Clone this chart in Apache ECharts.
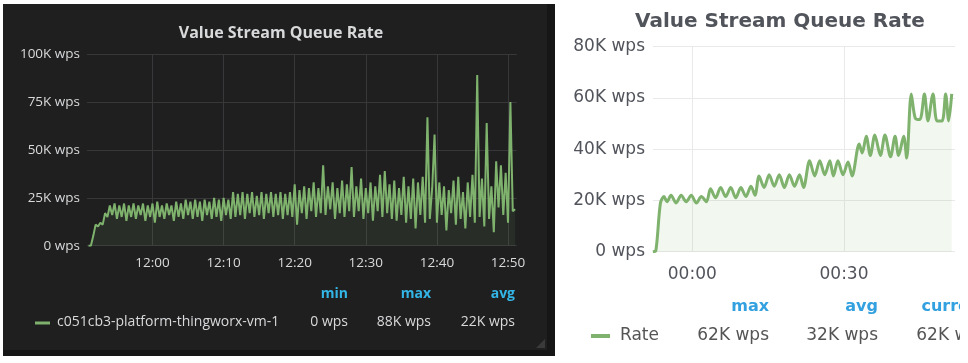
<!DOCTYPE html>
<html><head><meta charset="utf-8">
<script src="https://cdn.jsdelivr.net/npm/echarts@6/dist/echarts.min.js"></script>
<style>html,body{margin:0;padding:0;background:#fff;}#c{width:968px;height:363px;}</style>
</head><body><div id="c"></div>
<script>
// ---------- data ----------
const panelTitle = 'Value Stream Queue Rate';
const leftTickTimes = ['12:00','12:10','12:20','12:30','12:40','12:50'];
const rightTickTimes = ['00:00','00:30'];
const leftYMax = 100000, leftYStep = 25000;
const rightYMax = 80000, rightYStep = 20000;
// left series: one sample every 20 s from 11:51:00, in K wps
const leftValuesK = [
  0,0,5,  11,10,12,  11,17,15,  21,16,22,  14,21,15,  22,13,21,  15,22,14,  21,16,22,  13,21,15,
  22,12,23,  15,21,14,  22,16,21,  13,23,15,  22,14,24,  16,23,14,  24,15,23,  13,24,16,  23,14,25,  15,24,13,
  25,16,24,  14,28,15,  27,16,28,  14,27,17,  28,15,26,  16,28,14,  27,17,28,  15,27,16,  28,14,27,  16,28,15,
  32,11,29,  17,31,14,  30,18,33,  15,30,17,  42,16,31,  19,33,14,  30,17,34,  15,32,18,  41,15,31,  18,35,14,
  30,17,33,  13,31,18,  37,15,39,  17,32,14,  34,13,30,  16,36,12,  31,14,35,  9,33,16,  36,12,67,  14,30,58,
  12,33,16,  31,8,29,  17,34,11,  36,14,28,  9,33,15,  37,12,89,  15,35,10,  64,14,31,  7,44,20,  42,16,38,
  12,75,18,  19
];
// right series: minutes after 00:00, value in K wps
const rightMinutes = [
  -7.8,-7.2,-6.3,-5.6,-5.0,-4.2,-3.2,-2.2,-1.2,-0.2,0.8,1.8,2.8,
  3.6,4.6,5.6,6.6,7.6,8.6,9.6,10.6,11.6,12.4,
  13.2,14.2,15.2,16.2,17.2,18.2,19.2,20.2,21.2,22.0,
  23.2,24.2,25.2,26.2,27.2,27.9,28.8,29.8,30.8,31.6,
  33.0,33.6,34.4,35.2,36.1,37.2,38.1,39.2,40.1,40.8,41.8,42.4,
  43.3,44.1,45.0,45.9,46.6,47.6,48.4,49.4,50.1,50.7,51.3
];
const rightValuesK = [
  0,0.5,19,21.5,19.5,22,19,22,19.5,22,19,21.5,19.5,
  24.5,21,25,21.5,25,21,25,21.5,25.5,22,
  29.5,25,30,25.5,30,25,30,25.5,30,25,
  35.5,29.5,35.5,30,35.5,29.5,35.5,30,35,29.5,
  42,38.5,45,37.5,45.5,37.5,45.5,37,45,37.5,45,36.5,
  61.5,52,51.5,61.5,51,61.5,51,51,61.5,51,61.5
];
const leftLegendName = 'c051cb3-platform-thingworx-vm-1';
const leftLegendHeaders = ['min','max','avg'];
const leftLegendValues = ['0 wps','88K wps','22K wps'];
const rightLegendName = 'Rate';
const rightLegendHeaders = ['max','avg','current'];
const rightLegendValues = ['62K wps','32K wps','62K wps'];

// ---------- helpers ----------
const GREEN = '#7eb26d';
const leftRef = 12 * 60;   // 12:00
const rightRef = 0;        // 00:00
function toMin(str, ref) { const p = str.split(':'); let m = (+p[0]) * 60 + (+p[1]) - ref; if (m > 720) m -= 1440; return m; }
function pad(n) { return (n < 10 ? '0' : '') + n; }
function fmtMin(ref) {
  return function (v) { let t = Math.round(v + ref); t = ((t % 1440) + 1440) % 1440; return pad(Math.floor(t / 60)) + ':' + pad(t % 60); };
}
function fmtWps(v) { return v === 0 ? '0 wps' : (v / 1000) + 'K wps'; }

const leftStart = toMin('11:51', leftRef);
const leftData = leftValuesK.map((v, i) => [leftStart + i / 3, v * 1000]);
const rightData = rightMinutes.map((m, i) => [m, rightValuesK[i] * 1000]);
const leftTicks = leftTickTimes.map(s => toMin(s, leftRef));
const rightTicks = rightTickTimes.map(s => toMin(s, rightRef));

const LF = 'Open Sans', RF = 'DejaVu Sans';
const graphics = [
  { type: 'rect', z: -20, shape: { x: 3, y: 4, width: 552, height: 352 }, style: { fill: '#161617' } },
  { type: 'rect', z: -19, shape: { x: 3, y: 4, width: 544, height: 346 }, style: { fill: '#1f1f20' } },
  { type: 'polygon', z: -18, shape: { points: [[545, 339], [545, 348], [536, 348]] }, style: { fill: '#3a3a3b' } },
  { type: 'rect', shape: { x: 35, y: 321.5, width: 15, height: 3 }, style: { fill: GREEN } },
  { type: 'text', x: 57, y: 322.5, style: { text: leftLegendName, fill: '#d8d9da', font: '14px "' + LF + '"', align: 'left', verticalAlign: 'middle' } },
  { type: 'rect', shape: { x: 591, y: 334, width: 19, height: 4 }, style: { fill: GREEN } },
  { type: 'text', x: 620, y: 336, style: { text: rightLegendName, fill: '#555555', font: '17px "' + RF + '"', align: 'left', verticalAlign: 'middle' } }
];
const leftCols = [348, 431, 515];
leftLegendHeaders.forEach((h, i) => {
  graphics.push({ type: 'text', x: leftCols[i], y: 294, style: { text: h, fill: '#33b5e5', font: 'bold 14px "' + LF + '"', align: 'right', verticalAlign: 'middle' } });
  graphics.push({ type: 'text', x: leftCols[i], y: 322.5, style: { text: leftLegendValues[i], fill: '#d8d9da', font: '14px "' + LF + '"', align: 'right', verticalAlign: 'middle' } });
});
const rightCols = [769, 878, 988];
rightLegendHeaders.forEach((h, i) => {
  graphics.push({ type: 'text', x: rightCols[i], y: 306.5, style: { text: h, fill: '#33a1e0', font: 'bold 16px "' + RF + '"', align: 'right', verticalAlign: 'middle' } });
  graphics.push({ type: 'text', x: rightCols[i], y: 336, style: { text: rightLegendValues[i], fill: '#555555', font: '17px "' + RF + '"', align: 'right', verticalAlign: 'middle' } });
});
// panel edge clipping the legend's last column
graphics.push({ type: 'rect', z: 50, shape: { x: 960, y: 285, width: 8, height: 78 }, style: { fill: '#ffffff' } });

const chart = echarts.init(document.getElementById('c'), null, { renderer: 'canvas' });
chart.setOption({
  backgroundColor: '#ffffff',
  animation: false,
  title: [
    { text: panelTitle, left: 276, top: 20, textAlign: 'center',
      textStyle: { color: '#d8d9da', fontFamily: LF, fontWeight: 'bold', fontSize: 16 } },
    { text: panelTitle, left: 775, top: 7, textAlign: 'center',
      textStyle: { color: '#52545c', fontFamily: RF, fontWeight: 'bold', fontSize: 20 } }
  ],
  grid: [
    { left: 87, top: 54, width: 429.7, height: 191.7 },
    { left: 653, top: 46.5, width: 302, height: 205.2 }
  ],
  xAxis: [
    { type: 'value', gridIndex: 0, min: -9.21, max: 51.22,
      axisLine: { show: false }, axisTick: { show: false, customValues: leftTicks },
      splitLine: { show: true, lineStyle: { color: '#38383a', width: 1 } },
      axisLabel: { customValues: leftTicks, formatter: fmtMin(leftRef), color: '#d8d9da',
        fontFamily: LF, fontSize: 13.5, margin: 10 } },
    { type: 'value', gridIndex: 1, min: -7.77, max: 51.95,
      axisLine: { show: false }, axisTick: { show: false, customValues: rightTicks },
      splitLine: { show: true, lineStyle: { color: '#e9e9e9', width: 1 } },
      axisLabel: { customValues: rightTicks, formatter: fmtMin(rightRef), color: '#52545c',
        fontFamily: RF, fontSize: 17, margin: 14 } }
  ],
  yAxis: [
    { type: 'value', gridIndex: 0, min: 0, max: leftYMax, interval: leftYStep,
      axisLine: { show: false }, axisTick: { show: false },
      splitLine: { lineStyle: { color: '#38383a', width: 1 } },
      axisLabel: { formatter: fmtWps, color: '#d8d9da', fontFamily: LF, fontSize: 13.5, margin: 7 } },
    { type: 'value', gridIndex: 1, min: 0, max: rightYMax, interval: rightYStep,
      axisLine: { show: false }, axisTick: { show: false },
      splitLine: { lineStyle: { color: '#e9e9e9', width: 1 } },
      axisLabel: { formatter: fmtWps, color: '#52545c', fontFamily: RF, fontSize: 17, margin: 8 } }
  ],
  series: [
    { type: 'line', xAxisIndex: 0, yAxisIndex: 0, data: leftData, showSymbol: false, symbol: 'none',
      lineStyle: { color: GREEN, width: 2 }, areaStyle: { color: GREEN, opacity: 0.1 } },
    { type: 'line', xAxisIndex: 1, yAxisIndex: 1, data: rightData, showSymbol: false, symbol: 'none',
      smooth: 0.3, lineStyle: { color: GREEN, width: 3 }, areaStyle: { color: GREEN, opacity: 0.1 } }
  ],
  graphic: graphics
});
</script></body></html>
